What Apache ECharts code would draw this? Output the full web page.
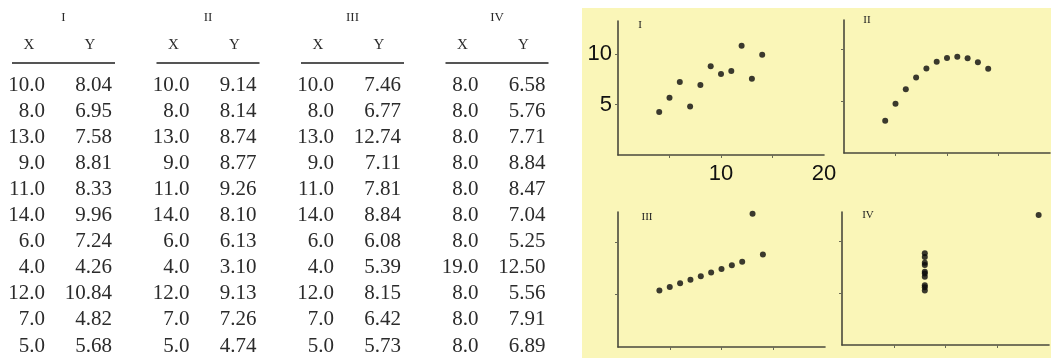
<!DOCTYPE html>
<html>
<head>
<meta charset="utf-8">
<script src="https://cdn.jsdelivr.net/npm/echarts@6/dist/echarts.min.js"></script>
<style>
html,body{margin:0;padding:0;background:#fff;}
#c{width:1051px;height:358px;}
</style>
</head>
<body>
<div id="c"></div>
<script>
// Anscombe's quartet
var setNames = ['I', 'II', 'III', 'IV'];
var x123 = [10, 8, 13, 9, 11, 14, 6, 4, 12, 7, 5];
var y1 = [8.04, 6.95, 7.58, 8.81, 8.33, 9.96, 7.24, 4.26, 10.84, 4.82, 5.68];
var y2 = [9.14, 8.14, 8.74, 8.77, 9.26, 8.10, 6.13, 3.10, 9.13, 7.26, 4.74];
var y3 = [7.46, 6.77, 12.74, 7.11, 7.81, 8.84, 6.08, 5.39, 8.15, 6.42, 5.73];
var x4 = [8, 8, 8, 8, 8, 8, 8, 19, 8, 8, 8];
var y4 = [6.58, 5.76, 7.71, 8.84, 8.47, 7.04, 5.25, 12.50, 5.56, 7.91, 6.89];
var xTicks = [5, 10, 15];
var yTicks = [5, 10];
var xTickLabels = [10, 20];
var yTickLabels = [5, 10];

var xs = [x123, x123, x123, x4];
var ys = [y1, y2, y3, y4];

var chart = echarts.init(document.getElementById('c'));

var serif = '"Liberation Serif","DejaVu Serif",serif';
var sans = '"Liberation Sans",Arial,sans-serif';
var tableColor = '#2b2b2b';

// layout
var grids = [
  {left: 618, top: 21, width: 206, height: 134},
  {left: 844, top: 20, width: 206, height: 133},
  {left: 618, top: 212, width: 207, height: 135},
  {left: 842, top: 212, width: 207, height: 133}
];
var yMax = [13.3, 12.8, 12.9, 12.8];
var panelLabelPos = [[640, 25], [867, 20], [647, 217], [868, 215]];

var xAxes = [], yAxes = [], series = [];
for (var p = 0; p < 4; p++) {
  var showLab = p === 0;
  xAxes.push({
    type: 'value', gridIndex: p, min: 0, max: 20,
    splitLine: {show: false},
    axisLine: {show: true, lineStyle: {color: '#4a4a3c', width: 1.6}},
    axisTick: {show: true, length: 3, customValues: xTicks, lineStyle: {color: '#6a6a55', width: 1}},
    axisLabel: {show: showLab, customValues: xTickLabels, margin: 8, fontFamily: sans, fontSize: 22, color: '#111'}
  });
  yAxes.push({
    type: 'value', gridIndex: p, min: 0, max: yMax[p],
    splitLine: {show: false},
    axisLine: {show: true, lineStyle: {color: '#4a4a3c', width: 1.6}},
    axisTick: {show: true, length: 3, customValues: yTicks, lineStyle: {color: '#6a6a55', width: 1}},
    axisLabel: {show: showLab, customValues: yTickLabels, margin: 6, fontFamily: sans, fontSize: 22, color: '#111'}
  });
  var d = [];
  for (var i = 0; i < xs[p].length; i++) d.push([xs[p][i], ys[p][i]]);
  series.push({
    type: 'scatter', xAxisIndex: p, yAxisIndex: p, data: d,
    symbolSize: 6, itemStyle: {color: '#0a0a0a'}, silent: true
  });
}

// graphics: yellow panel, table, panel labels
var graphics = [{
  type: 'rect', z: -10, shape: {x: 582, y: 8, width: 469, height: 350},
  style: {fill: '#faf6b8'}
}];

for (var p2 = 0; p2 < 4; p2++) {
  graphics.push({
    type: 'text', x: panelLabelPos[p2][0], y: panelLabelPos[p2][1], z: 5,
    style: {text: setNames[p2], fontFamily: serif, fontSize: 11, fill: '#222',
            align: 'center', verticalAlign: 'middle'}
  });
}

// table
var groupXRight0 = 45, groupStep = 144.5, yColOffset = 67;
var rowTop = 85, rowStep = 26.1;
for (var g = 0; g < 4; g++) {
  var xr = groupXRight0 + g * groupStep;
  var yr = xr + yColOffset;
  var l0 = xr - 33, l1 = yr + 3;
  graphics.push({
    type: 'text', x: (l0 + l1) / 2, y: 18,
    style: {text: setNames[g], fontFamily: serif, fontSize: 13, fill: tableColor, align: 'center', verticalAlign: 'middle'}
  });
  graphics.push({
    type: 'text', x: xr - 16, y: 45,
    style: {text: 'X', fontFamily: serif, fontSize: 15, fill: tableColor, align: 'center', verticalAlign: 'middle'}
  });
  graphics.push({
    type: 'text', x: yr - 22, y: 45,
    style: {text: 'Y', fontFamily: serif, fontSize: 15, fill: tableColor, align: 'center', verticalAlign: 'middle'}
  });
  graphics.push({
    type: 'line', shape: {x1: l0, y1: 63, x2: l1, y2: 63},
    style: {stroke: '#555', lineWidth: 2}
  });
  for (var r = 0; r < xs[g].length; r++) {
    var yy = rowTop + r * rowStep;
    graphics.push({
      type: 'text', x: xr, y: yy,
      style: {text: xs[g][r].toFixed(1), fontFamily: serif, fontSize: 21, fill: tableColor, align: 'right', verticalAlign: 'middle'}
    });
    graphics.push({
      type: 'text', x: yr, y: yy,
      style: {text: ys[g][r].toFixed(2), fontFamily: serif, fontSize: 21, fill: tableColor, align: 'right', verticalAlign: 'middle'}
    });
  }
}

chart.setOption({
  backgroundColor: '#ffffff',
  animation: false,
  grid: grids,
  xAxis: xAxes,
  yAxis: yAxes,
  series: series,
  graphic: graphics
});
</script>
</body>
</html>
